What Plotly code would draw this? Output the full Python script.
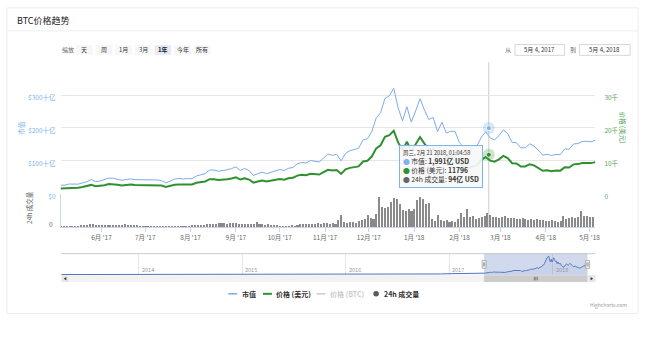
import plotly.graph_objects as go
import pandas as pd

W, H = 652, 340
def fx(p): return p / W
def fy(p): return 1 - p / H

FONT = "Noto Sans CJK SC, Noto Sans, sans-serif"
BLUE = "#7cb5ec"
BLUE_LINE = "#7eaaea"
GREEN = "#2f902f"
GREEN_LBL = "#55a555"
VOL = "#8a8a8a"

# ---------------- data ----------------
start_date = "2017-05-04"
end_date = "2018-05-04"

# BTC price (thousand USD), every 3 days from start_date
price_k = [1.52, 1.56, 1.76, 1.72, 1.73, 1.96, 2.18, 2.60, 2.20, 2.30,
           2.52, 2.86, 2.83, 2.66, 2.45, 2.58, 2.69, 2.56, 2.56, 2.48,
           2.56, 2.61, 2.50, 2.40, 1.96, 2.28, 2.67, 2.75, 2.67, 2.75,
           2.72, 3.24, 3.42, 3.65, 4.33, 4.33, 4.09, 4.15, 4.35, 4.58,
           4.90, 4.23, 4.60, 4.23, 3.30, 3.64, 3.91, 3.63, 3.93, 4.21,
           4.40, 4.21, 4.61, 4.76, 5.43, 5.68, 5.57, 6.02, 5.90, 5.76,
           6.47, 7.21, 6.96, 7.14, 5.95, 7.32, 7.79, 8.08, 8.25, 9.73,
           9.95, 11.25, 13.75, 14.70, 17.28, 17.76, 19.11, 15.56, 13.20, 15.75,
           12.95, 14.98, 17.17, 15.17, 13.41, 13.77, 11.19, 12.90, 10.94, 11.26,
           11.20, 9.17, 8.28, 7.62, 8.13, 8.60, 10.17, 11.12, 10.00, 9.66,
           10.40, 11.44, 10.78, 9.20, 9.13, 8.20, 8.22, 8.91, 8.55, 7.80,
           6.89, 7.04, 6.80, 7.02, 6.95, 8.00, 7.90, 8.86, 8.94, 9.28,
           9.35, 9.24, 9.55]

# market cap (十亿 USD), every 3 days from start_date
market_cap_b = [24.8, 25.4, 28.7, 28.1, 28.3, 32.0, 35.6, 42.5, 36.0, 37.6,
                41.2, 46.8, 46.3, 43.6, 40.1, 42.3, 44.1, 42.0, 42.0, 40.7,
                42.0, 42.9, 41.1, 39.5, 32.2, 37.5, 43.9, 45.3, 44.0, 45.3,
                44.8, 53.4, 56.4, 60.2, 71.4, 71.5, 67.6, 68.6, 71.9, 75.7,
                81.0, 70.0, 76.1, 70.0, 54.7, 60.3, 64.8, 60.2, 65.2, 69.9,
                73.0, 69.9, 76.6, 79.1, 90.3, 94.5, 92.7, 100.2, 98.2, 96.0,
                107.8, 120.2, 116.0, 119.1, 99.3, 122.2, 130.1, 135.0, 137.9, 162.7,
                166.4, 188.2, 230.2, 246.1, 289.4, 297.5, 320.3, 260.9, 221.4, 264.3,
                217.3, 251.5, 288.5, 254.9, 225.4, 231.5, 188.2, 217.1, 184.1, 189.6,
                188.7, 154.5, 139.6, 128.5, 137.2, 145.2, 171.7, 187.8, 168.9, 163.3,
                175.9, 193.5, 182.4, 155.7, 154.6, 138.9, 139.2, 151.0, 144.9, 132.3,
                116.9, 119.5, 115.5, 119.2, 118.1, 136.0, 134.3, 150.7, 152.1, 157.9,
                159.1, 157.4, 162.6]

# 24h volume (十亿 USD), every 2 days from start_date
volume_b = [0.9, 1.0, 0.8, 1.1, 1.2, 1.0, 1.3, 1.6, 1.8, 1.7, 2.2, 2.4, 1.9, 1.6,
            1.7, 1.5, 1.8, 2.0, 1.9, 2.1, 2.0, 1.7, 2.2, 1.8, 1.6, 1.5, 1.4, 1.3, 1.2,
            1.0, 0.9, 0.8, 0.9, 0.8, 0.7, 0.8, 1.0, 0.9, 0.8, 1.1, 0.9, 0.8, 0.7, 0.8, 0.9,
            1.4, 1.6, 1.8, 1.9, 2.0, 2.2, 2.6, 2.8, 2.7, 2.9, 3.2, 3.0, 2.8, 3.1, 3.0,
            2.9, 2.6, 2.4, 2.5, 2.3, 2.6, 2.8, 4.3, 2.6, 2.2, 2.0, 2.3, 1.7, 1.4, 1.5,
            1.3, 1.2, 1.1, 1.3, 1.5, 1.2, 1.6, 2.4, 2.6, 2.3, 2.5, 2.8, 2.6, 2.9, 2.7, 3.0,
            3.2, 2.8, 3.0, 2.6, 5.4, 8.9, 3.8, 3.5, 4.2, 4.0, 3.6, 4.4, 5.8, 6.2, 9.6,
            7.0, 6.5, 10.0, 23.0, 15.0, 14.8, 15.5, 19.0, 22.0, 21.0, 17.5, 13.0, 12.5, 13.8, 12.0,
            14.0, 20.5, 22.5, 21.0, 17.5, 18.0, 6.0, 5.0, 9.5, 5.5, 4.5, 5.8, 4.2, 5.0, 4.0, 6.5,
            10.5, 8.0, 14.0, 7.5, 8.5, 6.5, 7.0, 7.8, 8.5, 10.5, 9.0, 7.5, 8.0, 7.2,
            7.5, 8.2, 7.0, 6.8, 7.2, 6.0, 6.5, 7.0, 6.2, 5.8, 6.5, 5.5, 6.0, 5.2, 5.8,
            5.0, 4.8, 5.5, 4.5, 4.2, 4.8, 8.8, 6.5, 6.8, 7.5, 7.0, 8.0, 12.5, 8.5, 8.2,
            7.8, 8.0]

# navigator history before the selected range (monthly market cap, 十亿 USD)
nav_early_start = "2013-04-01"
nav_early_cap_b = [1.3, 1.3, 1.3, 1.0, 1.2, 1.5, 1.5, 2.5, 11.5,
                   9.0, 10.0, 7.0, 5.5, 5.8, 8.0, 8.0, 7.6, 6.4, 5.0, 4.6, 5.1,
                   4.4, 3.2, 3.6, 3.5, 3.2, 3.3, 3.8, 4.2, 3.4, 3.5, 4.9, 5.5,
                   6.5, 5.8, 6.5, 6.5, 7.0, 8.4, 10.6, 9.2, 9.0, 9.8, 11.8, 12.0,
                   16.0, 15.6, 19.7, 17.6]

month_ticks = ["2017-06-01", "2017-07-01", "2017-08-01", "2017-09-01", "2017-10-01",
               "2017-11-01", "2017-12-01", "2018-01-01", "2018-02-01", "2018-03-01",
               "2018-04-01", "2018-05-01"]
month_labels = ["6月 '17", "7月 '17", "8月 '17", "9月 '17", "10月 '17", "11月 '17",
                "12月 '17", "1月 '18", "2月 '18", "3月 '18", "4月 '18", "5月 '18"]
year_ticks = ["2014-01-01", "2015-01-01", "2016-01-01", "2017-01-01", "2018-01-01"]
year_labels = ["2014", "2015", "2016", "2017", "2018"]

cap_ticks = [0, 100, 200, 300, 400]
cap_labels = ["$0", "$100十亿", "$200十亿", "$300十亿", ""]
price_ticks = [0, 10, 20, 30, 40]
price_labels = ["0", "10千", "20千", "30千", ""]
vol_ticks = [0, 25]
vol_labels = ["0", ""]

range_buttons = ["天", "周", "1月", "3月", "1年", "今年", "所有"]
selected_button = "1年"
legend_names = ["市值", "价格 (美元)", "价格 (BTC)", "24h 成交量"]

tooltip_time = "2018-02-21 01:04:58"
tooltip_header = "周三, 2月 21 2018, 01:04:58"
tooltip_cap_yi = 1991      # 亿 USD
tooltip_price = 11796      # USD
tooltip_vol_yi = 94        # 亿 USD
from_label = "5月 4, 2017"
to_label = "5月 4, 2018"

# ---------------- derived x positions ----------------
line_dates = pd.date_range(start_date, periods=len(price_k), freq="3D")
vol_dates = pd.date_range(start_date, periods=len(volume_b), freq="2D")
nav_dates = list(pd.date_range(nav_early_start, periods=len(nav_early_cap_b), freq="MS")) + list(line_dates)
nav_vals = nav_early_cap_b + market_cap_b
mid_date = pd.Timestamp(start_date) + (pd.Timestamp(end_date) - pd.Timestamp(start_date)) / 2

fig = go.Figure()

fig.add_trace(go.Bar(x=vol_dates, y=volume_b, xaxis="x", yaxis="y3",
                     marker=dict(color=VOL, line=dict(width=0)),
                     width=1.05 * 86400000, name="24h 成交量"))
fig.add_trace(go.Scatter(x=line_dates, y=market_cap_b, xaxis="x", yaxis="y",
                         mode="lines", line=dict(color=BLUE_LINE, width=1), name="市值"))
fig.add_trace(go.Scatter(x=line_dates, y=price_k, xaxis="x", yaxis="y2",
                         mode="lines", line=dict(color=GREEN, width=2), name="价格 (美元)"))
# hover markers
fig.add_trace(go.Scatter(x=[tooltip_time], y=[tooltip_cap_yi / 10], xaxis="x", yaxis="y",
                         mode="markers", marker=dict(size=12, color="rgba(124,181,236,0.3)")))
fig.add_trace(go.Scatter(x=[tooltip_time], y=[tooltip_cap_yi / 10], xaxis="x", yaxis="y",
                         mode="markers", marker=dict(size=5, color=BLUE, line=dict(color="white", width=0.8))))
fig.add_trace(go.Scatter(x=[tooltip_time], y=[tooltip_price / 1000], xaxis="x", yaxis="y2",
                         mode="markers", marker=dict(size=12, color="rgba(47,144,47,0.25)")))
fig.add_trace(go.Scatter(x=[tooltip_time], y=[tooltip_price / 1000], xaxis="x", yaxis="y2",
                         mode="markers", marker=dict(size=5, color=GREEN, line=dict(color="white", width=0.8))))
# navigator series
fig.add_trace(go.Scatter(x=nav_dates, y=nav_vals, xaxis="x2", yaxis="y4", mode="lines",
                         line=dict(color="#4f76c0", width=1), fill="tozeroy",
                         fillcolor="rgba(51,92,173,0.06)"))

axis_font = dict(family=FONT, size=6.5, color="#666666")

fig.update_layout(
    width=W, height=H, margin=dict(l=0, r=0, t=0, b=0),
    paper_bgcolor="white", plot_bgcolor="rgba(0,0,0,0)",
    showlegend=False, font=dict(family=FONT), bargap=0,
    xaxis=dict(domain=[fx(61), fx(600)], anchor="y3", type="date",
               range=[start_date, "2018-05-05"], tickmode="array",
               tickvals=month_ticks, ticktext=month_labels, ticks="outside",
               ticklen=4, tickcolor="#ccd6eb", showline=True, linecolor="#ccd6eb",
               linewidth=1, showgrid=False, zeroline=False, tickfont=axis_font),
    yaxis=dict(domain=[fy(197.5), fy(63.5)], anchor="x", range=[0, 400],
               tickmode="array", tickvals=cap_ticks, ticktext=cap_labels,
               showgrid=True, gridcolor="#e6e6e6", gridwidth=1, zeroline=False,
               ticks="", ticklabelstandoff=4, ticklabelshift=3,
               tickfont=dict(family=FONT, size=6.5, color=BLUE)),
    yaxis2=dict(overlaying="y", side="right", anchor="x", range=[0, 40],
                tickmode="array", tickvals=price_ticks, ticktext=price_labels,
                showgrid=False, zeroline=False, ticks="", ticklabelstandoff=8,
                ticklabelshift=3, tickfont=dict(family=FONT, size=6.5, color=GREEN_LBL)),
    yaxis3=dict(domain=[fy(232), fy(198)], anchor="x", range=[0, 25],
                tickmode="array", tickvals=vol_ticks, showticklabels=False,
                showgrid=True, gridcolor="#e6e6e6", showline=True, linecolor="#ccd6eb",
                zeroline=False, ticks=""),
    xaxis2=dict(domain=[fx(62), fx(600)], anchor="y4", type="date",
                range=["2013-04-03", "2018-06-01"], tickmode="array",
                tickvals=year_ticks, showticklabels=False, showgrid=True,
                gridcolor="#e6e6e6", ticks="", showline=False, zeroline=False),
    yaxis4=dict(domain=[fy(281), fy(259)], anchor="x2", range=[-10, 360],
                visible=False, showticklabels=False, showgrid=False, fixedrange=True),
)

shapes = []
def prect(x0, y0, x1, y1, fill, line="rgba(0,0,0,0)", lw=0, layer="above"):
    shapes.append(dict(type="rect", xref="paper", yref="paper", x0=fx(x0), x1=fx(x1),
                       y0=fy(y1), y1=fy(y0), fillcolor=fill,
                       line=dict(color=line, width=lw), layer=layer))
def pline(x0, y0, x1, y1, color, lw=1, layer="above"):
    shapes.append(dict(type="line", xref="paper", yref="paper", x0=fx(x0), x1=fx(x1),
                       y0=fy(y0), y1=fy(y1), line=dict(color=color, width=lw), layer=layer))
def ppath(pts, fill):
    d = "M " + " L ".join(f"{fx(a):.5f},{fy(b):.5f}" for a, b in pts) + " Z"
    shapes.append(dict(type="path", xref="paper", yref="paper", path=d,
                       fillcolor=fill, line=dict(width=0), layer="above"))

# card
prect(7, 8, 643, 320, "white", "#ececec", 1, layer="below")
pline(7, 31.5, 643, 31.5, "#eeeeee", 1, layer="below")

annotations = []
def ann(x, y, text, size=6.5, color="#333333", xanchor="center", **kw):
    annotations.append(dict(x=fx(x), y=fy(y), xref="paper", yref="paper", text=text,
                            showarrow=False, xanchor=xanchor, yanchor="middle",
                            font=dict(family=FONT, size=size, color=color), **kw))

ann(15, 20.5, "BTC价格趋势", size=9, color="#222222", xanchor="left")
ann(69, 51, "缩放", size=6, color="#666666")
for i, b in enumerate(range_buttons):
    cx = 85 + 19.8 * i
    sel = (b == selected_button)
    prect(cx - 8.4, 46, cx + 8.4, 56, "#e6ebf5" if sel else "#f7f7f7", layer="below")
    ann(cx, 51, f"<b>{b}</b>" if sel else b, size=6, color="#222222" if sel else "#333333")

ann(512, 51, "从", size=6, color="#666666")
prect(519, 45.5, 569, 56.5, "white", "#cccccc", 0.8, layer="below")
ann(544, 51, from_label, size=6)
ann(577, 51, "到", size=6, color="#666666")
prect(584, 45.5, 635, 56.5, "white", "#cccccc", 0.8, layer="below")
ann(609.5, 51, to_label, size=6)

# axis titles
ann(21.5, 130, legend_names[0], size=6.5, color=BLUE, textangle=-90)
ann(627.5, 130, legend_names[1], size=6.5, color=GREEN_LBL, textangle=90)
ann(28.5, 212, legend_names[3], size=6.5, color="#666666", textangle=-90)

# volume axis "0" label, placed on the volume axis scale
annotations.append(dict(x=fx(55), y=vol_ticks[0], xref="paper", yref="y3", text=vol_labels[0],
                        showarrow=False, xanchor="right", yanchor="middle", yshift=3,
                        font=axis_font))

# crosshair
shapes.append(dict(type="line", xref="x", yref="paper", x0=tooltip_time, x1=tooltip_time,
                   y0=fy(232), y1=fy(63.5), line=dict(color="#cccccc", width=1), layer="between"))

# navigator year labels (on the navigator's date axis)
for t, lab in zip(year_ticks, year_labels):
    annotations.append(dict(x=t, y=fy(276), xref="x2", yref="paper", text=lab,
                            showarrow=False, xanchor="left", yanchor="middle", xshift=1,
                            font=dict(family=FONT, size=5.5, color="#999999")))

# navigator
pline(62, 259, 600, 259, "#cccccc", 1)
shapes.append(dict(type="rect", xref="x2", yref="paper", x0=start_date, x1=end_date,
                   y0=fy(281), y1=fy(259), fillcolor="rgba(102,133,194,0.3)",
                   line=dict(width=0), layer="above"))
for d in [start_date, end_date]:
    shapes.append(dict(type="rect", xref="x2", xsizemode="pixel", xanchor=d, x0=-2, x1=2,
                       yref="paper", y0=fy(274), y1=fy(266), fillcolor="#f2f2f2",
                       line=dict(color="#999999", width=0.7), layer="above"))
    for off in (-0.6, 0.6):
        shapes.append(dict(type="line", xref="x2", xsizemode="pixel", xanchor=d, x0=off, x1=off,
                           yref="paper", y0=fy(272), y1=fy(268),
                           line=dict(color="#333333", width=0.4), layer="above"))
# scrollbar
prect(62, 281, 600, 288, "#f2f2f2")
shapes.append(dict(type="rect", xref="x2", yref="paper", x0=start_date, x1=end_date,
                   y0=fy(288), y1=fy(281), fillcolor="#cccccc", line=dict(width=0), layer="above"))
for off in (-1.5, 0, 1.5):
    shapes.append(dict(type="line", xref="x2", xsizemode="pixel", xanchor=mid_date, x0=off, x1=off,
                       yref="paper", y0=fy(286.3), y1=fy(282.7),
                       line=dict(color="#333333", width=0.5), layer="above"))
prect(62, 281, 69, 288, "#e6e6e6")
prect(593, 281, 600, 288, "#e6e6e6")
ppath([(66.8, 282.8), (64.3, 284.5), (66.8, 286.2)], "#333333")
ppath([(595.2, 282.8), (597.7, 284.5), (595.2, 286.2)], "#333333")

# legend
pline(230, 300, 239, 300, BLUE_LINE, 1.5)
ann(242, 300, f"<b>{legend_names[0]}</b>", size=7, xanchor="left")
pline(265, 300, 274, 300, GREEN, 2)
ann(276, 300, f"<b>{legend_names[1]}</b>", size=7, xanchor="left")
pline(319, 300, 328, 300, "#cccccc", 1.5)
ann(331, 300, f"<b>{legend_names[2]}</b>", size=7, color="#cccccc", xanchor="left")
shapes.append(dict(type="circle", xref="paper", yref="paper", x0=fx(376.2), x1=fx(381.8),
                   y0=fy(302.8), y1=fy(297.2), fillcolor="#5a5a5a", line=dict(width=0)))
ann(385, 300, f"<b>{legend_names[3]}</b>", size=7, xanchor="left")

ann(634, 311, "Highcharts.com", size=5, color="#999999", xanchor="right")

# tooltip
tip = (f"<span style='font-size:5.5px'>{tooltip_header}</span><br>"
       f"<span style='color:{BLUE}'>●</span> 市值: <b>{tooltip_cap_yi:,}亿 USD</b><br>"
       f"<span style='color:{GREEN}'>●</span> 价格 (美元): <b>{tooltip_price}</b><br>"
       f"<span style='color:#666666'>●</span> 24h 成交量: <b>{tooltip_vol_yi}亿 USD</b>")
annotations.append(dict(x=fx(402), y=fy(148), xref="paper", yref="paper", text=tip,
                        showarrow=False, xanchor="left", yanchor="top", align="left",
                        bgcolor="rgba(247,247,247,0.92)", bordercolor=BLUE,
                        borderwidth=1, borderpad=3,
                        font=dict(family=FONT, size=6.8, color="#333333")))

fig.update_layout(shapes=shapes, annotations=annotations)
fig.write_html("out.html")
